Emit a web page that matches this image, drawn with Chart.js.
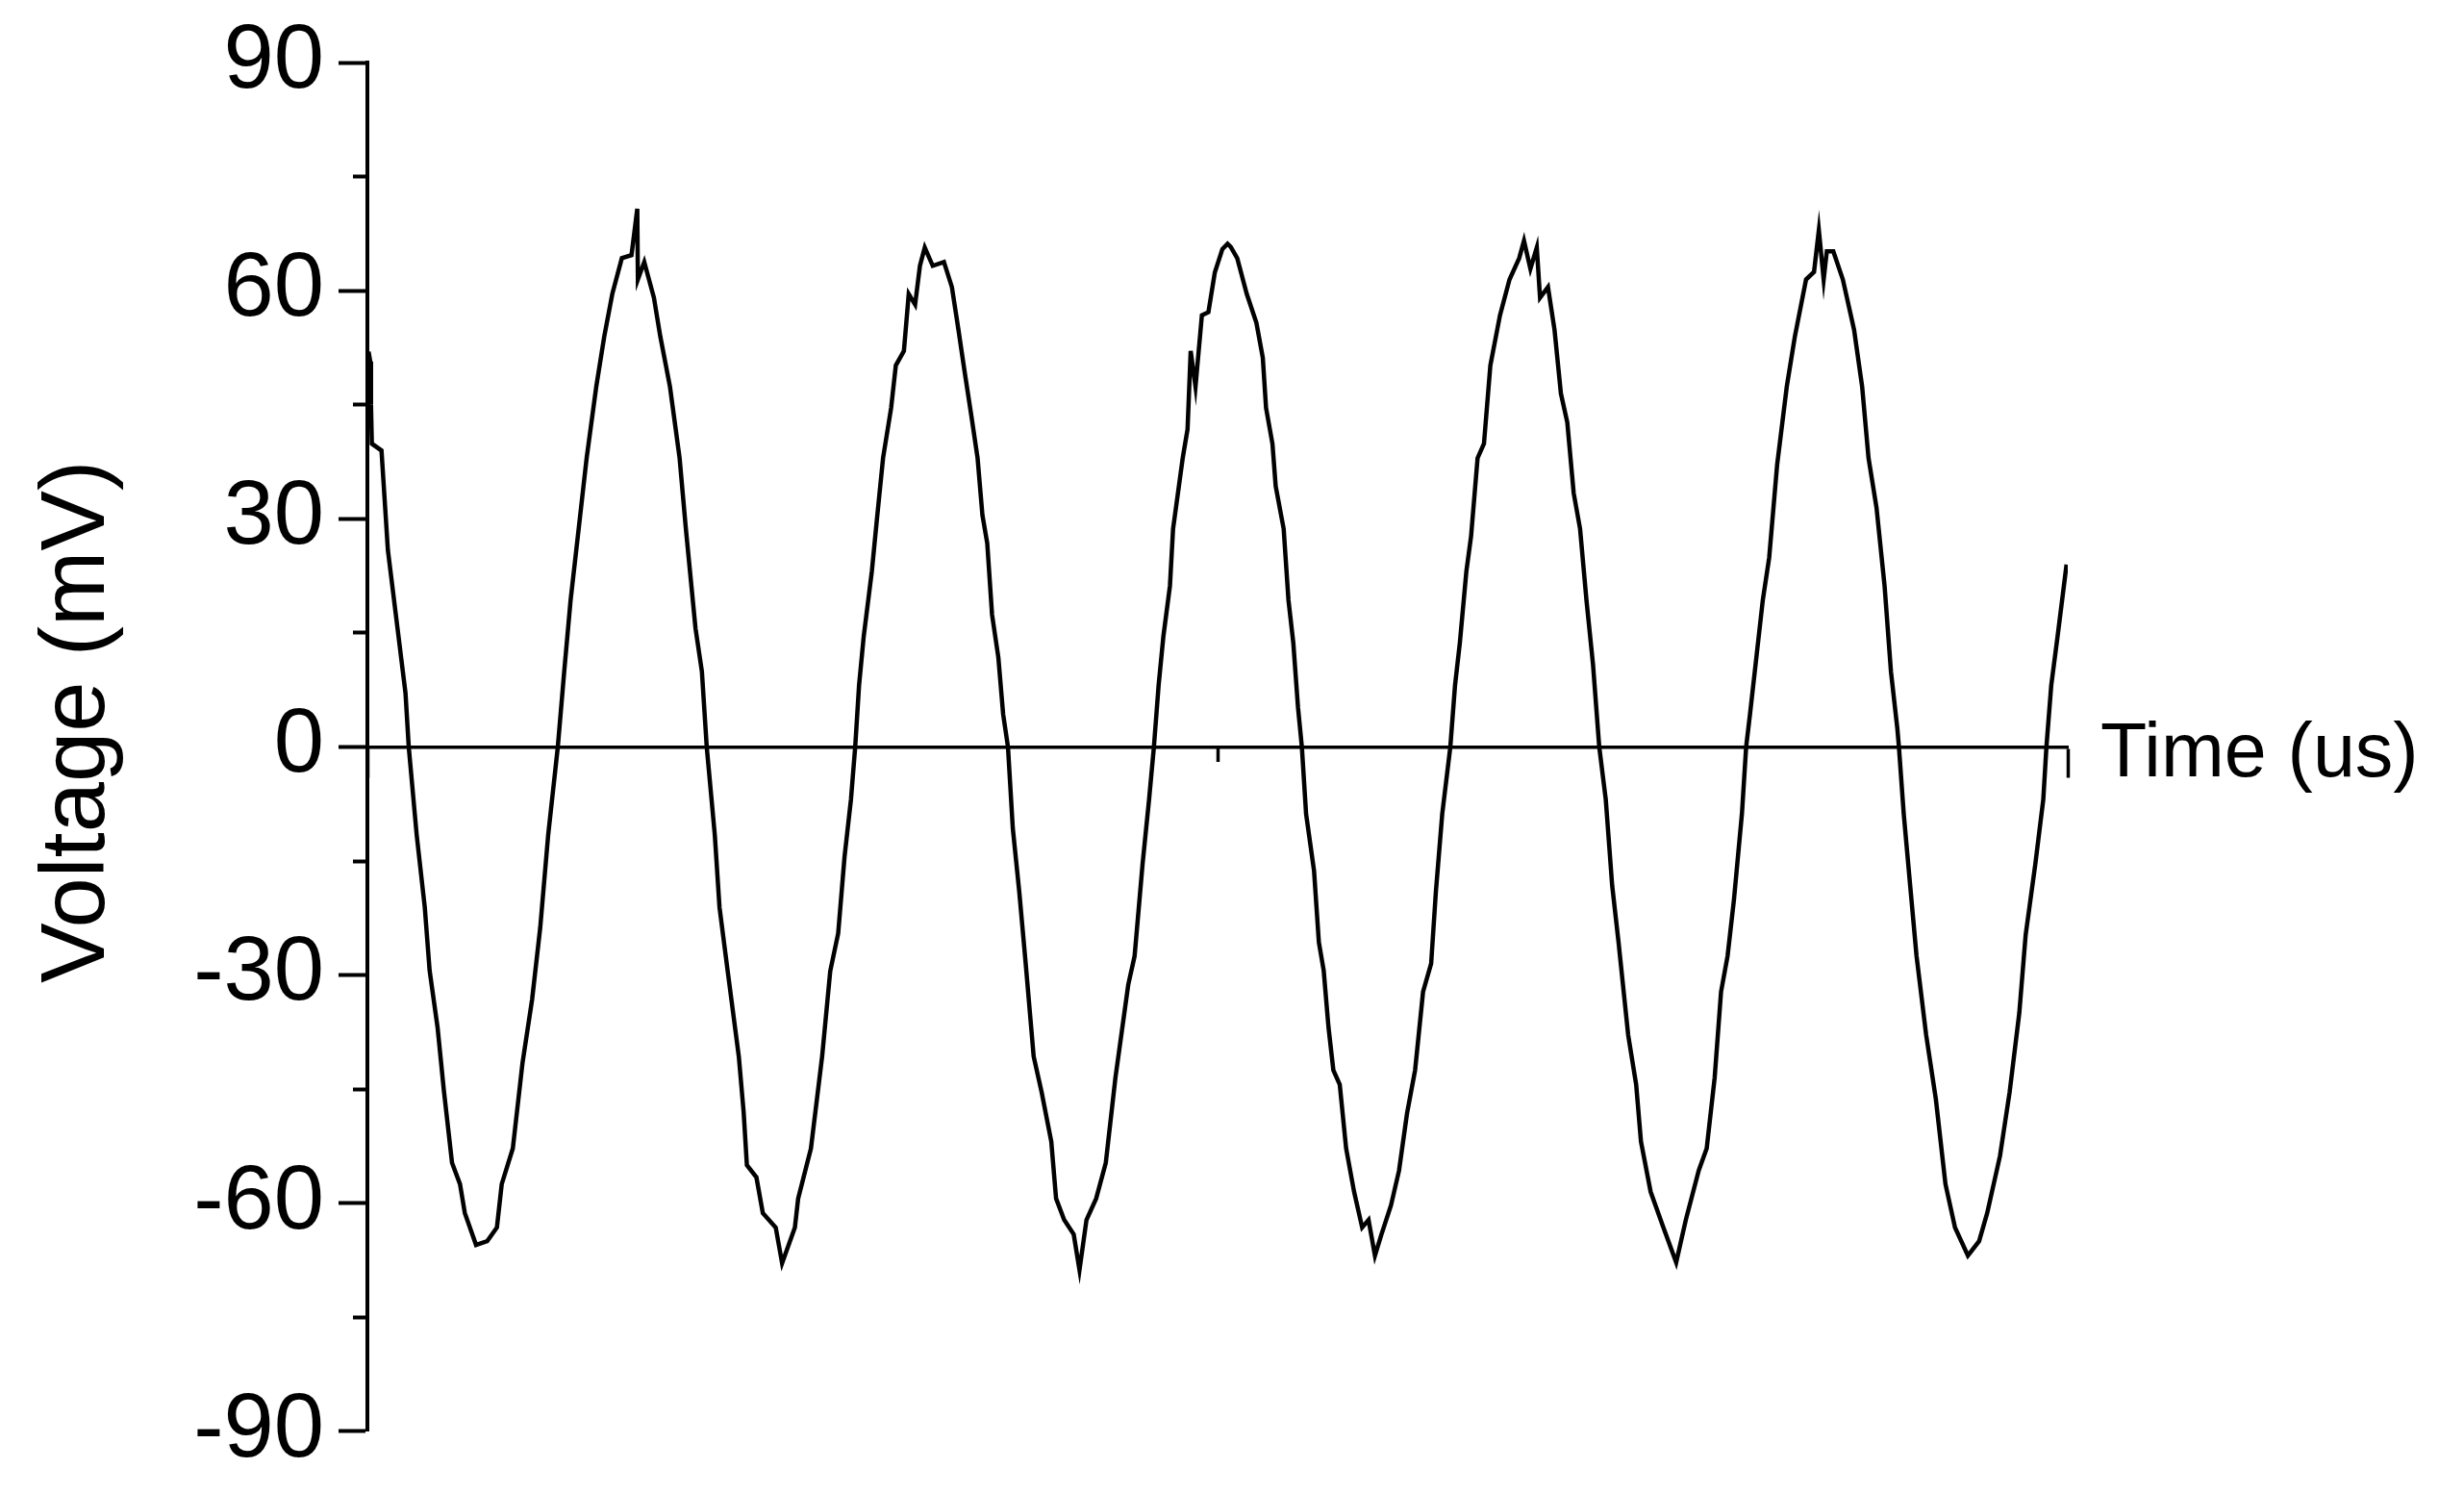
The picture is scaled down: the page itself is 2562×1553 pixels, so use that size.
<!DOCTYPE html>
<html>
<head>
<meta charset="utf-8">
<title>Voltage trace</title>
<script src="https://cdn.jsdelivr.net/npm/chart.js@4/dist/chart.umd.min.js"></script>
<style>
  html, body { margin: 0; padding: 0; background: #fff; }
  #chart { display: block; }
</style>
</head>
<body>
<canvas id="chart" width="2562" height="1553"></canvas>
<script>
// values
const timeUs = [
    0.1, 0.24, 0.3, 0.37, 1.17, 1.7, 2.5, 3.16, 3.43, 4.09, 4.76, 5.16, 5.82, 6.35, 7.02, 7.68, 8.08, 9.01, 9.94,
    10.74, 11.14, 12.06, 12.86, 13.66, 14.33, 14.99, 15.79, 16.32, 16.85, 17.52, 18.18, 18.98, 19.64, 20.31, 21.1,
    21.9, 22.38, 22.43, 22.96, 23.76, 24.29, 25.09, 25.89, 26.41, 27.21, 27.74, 28.14, 28.81, 29.2, 29.87, 30.8,
    31.2, 31.47, 32.26, 32.79, 33.86, 34.39, 35.45,
    35.72, 36.78, 37.71, 38.38, 39.04, 39.57, 40.1, 40.45, 40.77, 41.16, 41.83, 42.23, 42.76, 43.43, 43.82, 44.49,
    44.89, 45.42, 45.82, 46.22, 46.88, 47.81, 48.47, 49.01, 49.53, 50.07, 50.6, 51.0, 51.4, 51.8, 52.32, 52.72,
    53.12, 53.52, 54.06, 54.59, 55.25, 55.91, 56.71, 57.11, 57.78, 58.57, 59.05, 59.63, 60.43, 61.23, 62.03, 63.09,
    63.62, 64.28, 64.82, 65.22, 65.61, 66.01, 66.55, 66.81, 67.61, 68.01, 68.27, 68.67, 69.2, 69.74, 70.27, 70.9,
    71.33, 71.59, 72.13, 72.92, 73.72, 74.25, 74.52, 75.05, 75.32, 75.98, 76.38, 76.78, 77.17, 77.49, 77.84, 78.5,
    78.9, 79.3, 79.7, 80.1, 80.63, 81.16, 81.82, 82.49, 83.02, 83.55, 84.09, 84.88, 85.55, 86.21, 86.88, 87.54,
    88.21, 88.6, 89.13, 89.8, 90.19, 90.59, 91.13, 91.52, 92.06, 92.59, 93.12, 93.92, 94.71, 95.51, 95.91, 96.44,
    96.97, 97.24, 97.9, 98.44, 98.97, 99.5, 100.03, 100.56, 101.09, 101.63, 102.15, 102.69, 103.22, 103.75, 104.55,
    105.21, 105.61, 106.41,
    107.47, 108.53, 109.33, 110.4, 111.06, 111.72, 112.25, 112.79, 113.32, 113.98, 114.33, 114.65, 115.18, 115.71,
    116.24, 116.9, 117.7, 118.37, 119.3, 119.96, 120.36, 120.76, 121.02, 121.56, 122.35, 123.28, 123.95, 124.48,
    125.14, 125.81, 126.34, 126.87, 127.0, 127.4, 127.93, 128.46, 129.26, 130.06, 130.86, 131.65, 132.72, 133.65,
    134.32, 135.38, 136.18, 136.98, 137.51, 138.31, 138.97, 139.23, 139.63, 140.16, 140.9
];

const voltageMv = [
    52.0, 50.7, 45.0, 39.9, 39.0, 25.9, 15.6, 7.1, 0, -11.6, -21.1, -29.4, -36.9, -45.3, -54.7, -57.5, -61.3, -65.5, -65.0,
    -63.2, -57.5, -52.8, -41.6, -33.2, -23.8, -11.6, 0, 9.9, 19.3, 28.7, 38.0, 47.4, 54.0, 59.6, 64.3,
    64.7, 70.8, 61.5, 63.8, 59.1, 54.0, 47.4, 38.0, 28.7, 15.6, 9.9, 0, -11.6, -21.1, -29.4, -40.7,
    -48.0, -55.0, -56.6, -61.3, -63.2, -67.9, -63.2,
    -59.4, -52.8, -40.7, -29.5, -24.5, -14.4, -6.9, 0, 8.1, 14.6, 23.1, 29.6, 38.0, 44.6, 50.2, 52.1,
    59.6, 58.2, 63.3, 65.7, 63.3, 63.8, 60.5, 54.9, 49.3, 43.7, 38.0, 30.5, 26.8, 17.4, 11.8, 4.3,
    0, -10.7, -19.1, -28.5, -40.7, -45.4, -51.9, -59.4, -62.2, -64.1, -68.8, -62.2, -59.4, -54.7, -43.5, -31.3,
    -27.5, -15.4, -6.9, 0, 8.1, 14.6, 21.2, 28.7, 38.0, 41.8, 52.1, 47.4, 56.8, 57.2, 62.4, 65.5,
    66.2, 65.8, 64.3, 59.6, 55.8, 51.2, 44.6, 39.9, 34.3, 28.7, 19.3, 13.7, 5.2, 0, -8.8, -16.3,
    -25.7, -29.4, -36.9, -42.5, -44.4, -52.8, -58.5, -63.2, -62.2, -66.9, -64.1, -60.3, -55.7, -48.2, -42.5, -32.2,
    -28.5, -19.1, -8.8, 0, 8.1, 13.7, 23.1, 27.7, 38.0, 39.9, 50.2, 56.8, 61.5, 64.3, 66.6, 62.9,
    65.7, 59.1, 60.5, 54.9, 46.5, 42.7, 33.4, 28.7, 19.3, 10.9, 0, -6.9, -18.2, -25.7, -37.9,
    -44.4, -51.9, -58.5,
    -63.2, -67.8, -62.2, -55.7, -52.8, -43.5, -32.2, -27.5, -20.1, -8.8, 0, 4.3, 11.8, 19.3,
    24.9, 37.1, 47.4, 54.0, 61.5, 62.5, 68.0, 61.5, 65.2, 65.2, 61.5, 54.9, 47.4, 38.0,
    31.5, 21.2, 9.9, 2.4, 0, -8.8, -18.2, -27.5, -37.9, -46.3, -57.5, -63.2, -66.9, -65.0,
    -61.3, -53.8, -45.4, -35.0, -24.7, -15.4, -6.9, 0, 8.1, 14.6, 24.0
];

const yMajorTicks = [-90, -60, -30, 0, 30, 60, 90];
const yMinorTicks = [-75, -45, -15, 15, 45, 75];
const xMajorTicks = [0, 141];
const xMinorTicks = [70.5];

const xTitle = 'Time (us)';
const yTitle = 'Voltage (mV)';

const fontFamily = '"Liberation Sans", Arial, sans-serif';
const axisColor = '#000';

const points = timeUs.map((t, i) => ({ x: t, y: voltageMv[i] }));

const setTicks = values => scale => {
    scale.ticks = values.map(v => ({ value: v }));
};

// "Time (us)" sits at the right end of the zero axis
const xTitlePlugin = {
    id: 'xTitleAtEnd',
    afterDraw(chart) {
        const ctx = chart.ctx;
        const x = chart.scales.x.right + 34;
        const y = chart.scales.y.getPixelForValue(0) + 30;
        ctx.save();
        ctx.font = '79px ' + fontFamily;
        ctx.fillStyle = axisColor;
        ctx.textAlign = 'left';
        ctx.textBaseline = 'alphabetic';
        ctx.fillText(xTitle, x, y);
        ctx.restore();
    }
};

new Chart(document.getElementById('chart').getContext('2d'), {
    type: 'line',
    data: {
        datasets: [{
            label: yTitle,
            data: points,
            borderColor: '#000',
            borderWidth: 4.5,
            pointRadius: 0,
            tension: 0,
            fill: false
        }]
    },
    options: {
        responsive: false,
        animation: false,
        devicePixelRatio: 1,
        // top/bottom of the plot come from the tick label padding (half label height + padding)
        layout: { padding: { left: 0, top: 20, right: 412, bottom: 20 } },
        plugins: {
            legend: { display: false },
            tooltip: { enabled: false }
        },
        scales: {
            x: {
                type: 'linear',
                position: { y: 0 },
                min: 0,
                max: 141,
                afterBuildTicks: setTicks(xMajorTicks),
                ticks: { display: false },
                grid: { display: true, drawOnChartArea: false, drawTicks: true, tickLength: 30, tickWidth: 3.5, tickColor: axisColor },
                border: { display: true, color: axisColor, width: 3.5 }
            },
            xMinor: {
                type: 'linear',
                axis: 'x',
                position: { y: 0 },
                min: 0,
                max: 141,
                afterBuildTicks: setTicks(xMinorTicks),
                ticks: { display: false },
                grid: { display: true, drawOnChartArea: false, drawTicks: true, tickLength: 15, tickWidth: 3.5, tickColor: axisColor },
                border: { display: false }
            },
            y: {
                type: 'linear',
                position: 'left',
                min: -90,
                max: 90,
                afterBuildTicks: setTicks(yMajorTicks),
                afterFit: scale => { scale.width = 382; },
                ticks: {
                    color: axisColor,
                    padding: 15,
                    font: { family: fontFamily, size: 94, lineHeight: 1.07 }
                },
                grid: { display: true, drawOnChartArea: false, drawTicks: true, tickLength: 30, tickWidth: 4, tickColor: axisColor },
                border: { display: true, color: axisColor, width: 4 },
                title: {
                    display: true,
                    text: '  ' + yTitle,
                    color: axisColor,
                    padding: { top: 26, bottom: 0 },
                    font: { family: fontFamily, size: 94, lineHeight: 1.2 }
                }
            },
            yMinor: {
                type: 'linear',
                axis: 'y',
                position: { x: 0 },
                min: -90,
                max: 90,
                afterBuildTicks: setTicks(yMinorTicks),
                ticks: { display: false },
                grid: { display: true, drawOnChartArea: false, drawTicks: true, tickLength: 15, tickWidth: 4, tickColor: axisColor },
                border: { display: false }
            }
        }
    },
    plugins: [xTitlePlugin]
});
</script>
</body>
</html>
